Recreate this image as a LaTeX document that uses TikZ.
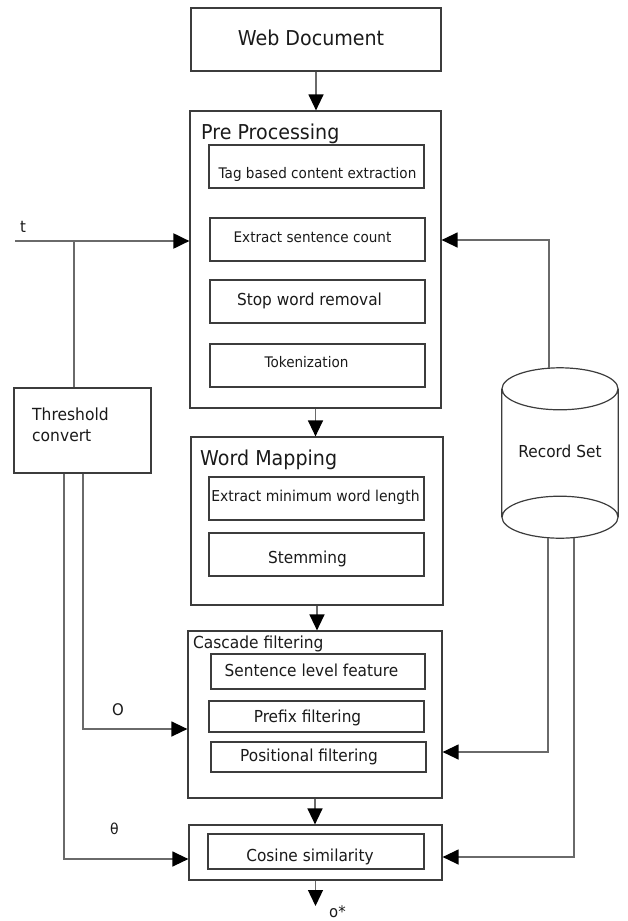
\documentclass[tikz,border=0pt]{standalone}
\usepackage{fontspec}
\setmainfont{DejaVu Sans}[FakeStretch=0.93]
\usetikzlibrary{arrows.meta}
\definecolor{boxline}{HTML}{3C3C3C}
\definecolor{wirecol}{HTML}{6A6A6A}
\definecolor{ink}{HTML}{1A1A1A}
\begin{document}
\begin{tikzpicture}[x=1pt,y=-1pt,
  box/.style={draw=boxline, line width=1.2pt, rectangle, inner sep=0pt},
  txt/.style={inner sep=0pt, text=ink},
  headtext/.style={txt, font=\fontsize{20.5pt}{24pt}\selectfont, text height=15pt, text depth=0pt},
  itemtext/.style={txt, font=\fontsize{16.5pt}{20pt}\selectfont, text height=12pt, text depth=0pt},
  smalltext/.style={txt, font=\fontsize{14.6pt}{18pt}\selectfont, text height=10.6pt, text depth=0pt},
  midtext/.style={txt, font=\fontsize{15pt}{18pt}\selectfont, text height=10.9pt, text depth=0pt},
  titletext/.style={txt, anchor=base west, font=\fontsize{20.5pt}{24pt}\selectfont},
  wire/.style={draw=wirecol, line width=1.3pt},
  flow/.style={wire, -{Triangle[length=16pt,width=15pt,color=black]}},
  lbl/.style={txt, anchor=base west, font=\fontsize{16pt}{19pt}\selectfont}
]
\useasboundingbox (0,0) rectangle (627,921);

% source document
\node[box, minimum width=250pt, minimum height=63pt,
  label={[headtext, xshift=-5pt, yshift=2pt]center:Web Document}] (web) at (316,39.5) {};

% pre processing stage
\node[box, minimum width=251pt, minimum height=297pt] (pre) at (315.5,259.5) {};
\node[titletext] (pretitle) at (201,139) {Pre Processing};
\node[box, minimum width=215pt, minimum height=43pt,
  label={[smalltext, xshift=1pt, yshift=-6.5pt]center:Tag based content extraction}] (tag) at (316.5,166.5) {};
\node[box, minimum width=215pt, minimum height=43pt,
  label={[smalltext, xshift=-5pt, yshift=2pt]center:Extract sentence count}] (sent) at (317.5,239.5) {};
\node[box, minimum width=215pt, minimum height=43pt,
  label={[itemtext, xshift=-8pt, yshift=2pt]center:Stop word removal}] (stop) at (317.5,301.5) {};
\node[box, minimum width=215pt, minimum height=43pt,
  label={[smalltext, xshift=-11pt, yshift=3.5pt]center:Tokenization}] (tok) at (317.5,365.5) {};

% word mapping stage
\node[box, minimum width=252pt, minimum height=168pt] (wm) at (317,521) {};
\node[titletext] (wmtitle) at (200,465) {Word Mapping};
\node[box, minimum width=215pt, minimum height=43pt,
  label={[midtext, xshift=-1pt, yshift=2pt]center:Extract minimum word length}] (minlen) at (316.5,498.5) {};
\node[box, minimum width=215pt, minimum height=43pt,
  label={[itemtext, xshift=-9pt, yshift=-2.5pt]center:Stemming}] (stem) at (316.5,554.5) {};

% cascade filtering stage
\node[box, minimum width=254pt, minimum height=167pt] (cas) at (315,714.5) {};
\node[txt, anchor=base west, font=\fontsize{16.6pt}{20pt}\selectfont] (castitle) at (193,648) {Cascade filtering};
\node[box, minimum width=214pt, minimum height=35pt,
  label={[itemtext, xshift=-6.5pt, yshift=1pt]center:Sentence level feature}] (slf) at (318,671.5) {};
\node[box, minimum width=215pt, minimum height=31pt,
  label={[itemtext, xshift=-9pt]center:Prefix filtering}] (pf) at (316.5,716.5) {};
\node[box, minimum width=215pt, minimum height=30pt,
  label={[itemtext, xshift=-9.5pt, yshift=1.5pt]center:Positional filtering}] (posf) at (318.5,757) {};

% similarity stage
\node[box, minimum width=253pt, minimum height=55pt] (cos) at (315.5,852.5) {};
\node[box, minimum width=216pt, minimum height=35pt,
  label={[itemtext, xshift=-6pt, yshift=-4pt]center:Cosine similarity}] (cosin) at (316,851.5) {};

% threshold block
\node[box, minimum width=137pt, minimum height=85pt] (thr) at (82.5,430.5) {};
\node[txt, anchor=west, align=left, font=\fontsize{16.7pt}{21pt}\selectfont] (thrtext) at (32,425) {Threshold\\convert};

% record set (cylinder)
\node[inner sep=0pt, minimum width=116pt, minimum height=170pt,
  label={[itemtext, yshift=2pt]center:Record Set}] (rec) at (560,453) {};
\draw[boxline, line width=1.2pt]
  ([yshift=-21pt]rec.north) ellipse [x radius=58pt, y radius=21pt]
  ([yshift=21pt]rec.south) ellipse [x radius=58pt, y radius=21pt]
  ([yshift=-21pt]rec.north west) -- ([yshift=21pt]rec.south west)
  ([yshift=-21pt]rec.north east) -- ([yshift=21pt]rec.south east);

% main flow
\coordinate (out) at (316,906);
\draw[flow] (web.south) -- (web.south |- pre.north);
\draw[flow] (pre.south) -- (pre.south |- wm.north);
\draw[flow] (wm.south) -- (wm.south |- cas.north);
\draw[flow] (cas.south) -- (cas.south |- cos.north);
\draw[flow] (cos.south) -- (cos.south |- out);
\node[lbl] (outlbl) at (329,917) {o*};

% threshold input t
\coordinate (tin) at (15,241);
\coordinate (tj) at (74,241);
\draw[flow, line width=2pt] (tin) -- (pre.west |- tin);
\draw[wire] (tj) -- (tj |- thr.north);
\node[lbl] (tlbl) at (20,232) {t};

% threshold outputs
\draw[flow] (thr.south -| 83,0) |- (cas.west |- 0,729);
\draw[flow] (thr.south -| 64,0) |- (cos.west |- 0,859);
\node[lbl] (olbl) at (112,715) {O};
\node[lbl, font=\fontsize{15pt}{18pt}\selectfont] (thetalbl) at (110,834) {θ};

% record set feedback
\draw[flow] (rec.north -| 549,0) |- (pre.east |- 0,240);
\draw[flow] (rec.south -| 548,0) |- (cas.east |- 0,752);
\draw[flow] (rec.south -| 574,0) |- (cos.east |- 0,857);
\end{tikzpicture}
\end{document}
